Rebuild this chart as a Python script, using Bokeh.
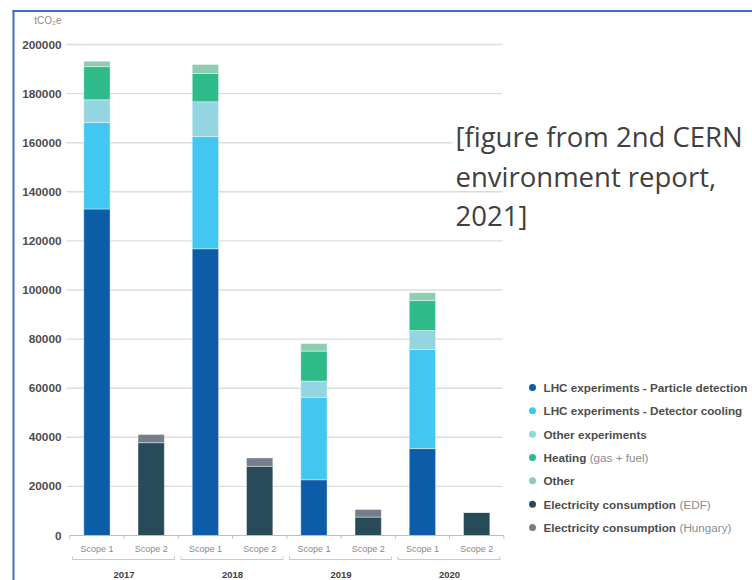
from bokeh.plotting import figure
from bokeh.models import ColumnDataSource, Range1d
from bokeh.core.properties import value
from bokeh.embed import file_html
from bokeh.resources import INLINE

# ---------------- data ----------------
years = ["2017", "2018", "2019", "2020"]
scopes = ["Scope 1", "Scope 2"]

# Scope 1 (tCO2e)
lhc_detection = [133000, 116800, 22700, 35400]
lhc_cooling = [35200, 45700, 33600, 40400]
other_experiments = [9300, 14200, 6600, 7700]
heating = [13500, 11500, 12200, 12200]
other = [2200, 3700, 3100, 3200]
# Scope 2 (tCO2e)
elec_edf = [37800, 28200, 7500, 9400]
elec_hungary = [3300, 3400, 3100, 0]

y_ticks = [0, 20000, 40000, 60000, 80000, 100000, 120000, 140000, 160000, 180000, 200000]
y_unit = "tCO\u2082e"

legend_main = ["LHC experiments - Particle detection", "LHC experiments - Detector cooling",
               "Other experiments", "Heating", "Other",
               "Electricity consumption", "Electricity consumption"]
legend_note = ["", "", "", "(gas + fuel)", "", "(EDF)", "(Hungary)"]
note_lines = ["[figure from 2nd CERN", "environment report,", "2021]"]

# ---------------- styles ----------------
colors1 = ["#0D5CA8", "#42C7F3", "#93D5E0", "#2FBA8A", "#8DCDB0"]
colors2 = ["#284B5A", "#747F8B"]
legend_colors = colors1 + colors2
note_offsets = [0, 0, 0, 46.2, 0, 136.0, 136.0]  # px width of bold part + space
FONT = value("Liberation Sans")

# ---------------- geometry (page px -> data) ----------------
W, H = 752, 580
SLOT = 54.25            # px per category slot
X0PX = 69.3             # px of first slot start
PPU = 491 / 200000      # px per tCO2e
BASE = 535              # px of zero line


def X(px):
    return (px - X0PX) / SLOT


def Y(py):
    return (BASE - py) / PPU


p = figure(width=W, height=H, x_range=Range1d(X(0), X(W)), y_range=Range1d(Y(H), Y(0)),
           output_backend="svg", toolbar_location=None,
           x_axis_location=None, y_axis_location=None,
           min_border_left=0, min_border_right=0, min_border_top=0, min_border_bottom=0)
p.outline_line_color = None
p.background_fill_color = "white"
p.border_fill_color = "white"
p.xgrid.visible = False
p.ygrid.visible = False

# horizontal grid lines
gt = y_ticks[1:]
p.segment(x0=[X(66)] * len(gt), y0=gt, x1=[X(502)] * len(gt), y1=gt,
          line_color="#dcdcdc", line_width=1.4)

# y tick labels + unit
p.text(x=[X(61)] * len(y_ticks), y=y_ticks, text=[str(t) for t in y_ticks],
       text_align="right", text_baseline="middle", text_font=FONT,
       text_font_size="11.8px", text_font_style="bold", text_color="#4d4d4d")
p.text(x=[X(61)], y=[Y(20)], text=[y_unit], text_align="right", text_baseline="middle",
       text_font=FONT, text_font_size="10px", text_color="#8c8c8c")

# ---------------- bars ----------------
n = len(years)
s1_x = [2 * i + 0.5 for i in range(n)]
s2_x = [2 * i + 1.5 for i in range(n)]
src1 = ColumnDataSource(dict(x=s1_x, det=lhc_detection, cool=lhc_cooling,
                             oexp=other_experiments, heat=heating, oth=other))
src2 = ColumnDataSource(dict(x=s2_x, edf=elec_edf, hun=elec_hungary))
p.vbar_stack(["det", "cool", "oexp", "heat", "oth"], x="x", width=0.485, source=src1,
             fill_color=colors1, line_color="white", line_width=0.8, line_alpha=0.5)
p.vbar_stack(["edf", "hun"], x="x", width=0.485, source=src2,
             fill_color=colors2, line_color="white", line_width=0.8, line_alpha=0.5)

# ---------------- category axis (drawn) ----------------
n_slots = 2 * n
p.segment(x0=[0], y0=[0], x1=[n_slots], y1=[0], line_color="#bdbdbd", line_width=1.2)
bx = list(range(n_slots + 1))
p.segment(x0=bx, y0=[0] * len(bx), x1=bx, y1=[Y(BASE + 3.5)] * len(bx),
          line_color="#c4c4c4", line_width=1)
cat_x = [c for pair in zip(s1_x, s2_x) for c in pair]
cat_t = scopes * n
p.text(x=cat_x, y=[Y(548)] * len(cat_x), text=cat_t, text_align="center",
       text_baseline="middle", text_font=FONT, text_font_size="9px", text_color="#8a8a8a")
bxs, bys = [], []
for i in range(n):
    a, b = 2 * i + 0.05, 2 * i + 1.93
    bxs.append([a, a, b, b])
    bys.append([Y(556), Y(559), Y(559), Y(556)])
p.multi_line(xs=bxs, ys=bys, line_color="#c8c8c8", line_width=1)
p.text(x=[2 * i + 1 for i in range(n)], y=[Y(574)] * n, text=years, text_align="center",
       text_baseline="middle", text_font=FONT, text_font_size="9.5px",
       text_font_style="bold", text_color="#404040")

# ---------------- legend (drawn) ----------------
ly = [Y(387 + i * 23.33) for i in range(len(legend_main))]
p.scatter(x=[X(532)] * len(ly), y=ly, size=7, fill_color=legend_colors, line_color=None)
p.text(x=[X(543)] * len(ly), y=ly, text=legend_main, text_baseline="middle",
       text_font=FONT, text_font_size="11.7px", text_font_style="bold", text_color="#4d4d4d")
p.text(x=[X(543)] * len(ly), y=ly, text=legend_note, x_offset=note_offsets,
       text_baseline="middle", text_font=FONT, text_font_size="11.7px", text_color="#8c8c8c")

# ---------------- overlay note ----------------
p.quad(left=[X(452)], right=[X(506)], top=[Y(122)], bottom=[Y(156)],
       fill_color="white", line_color=None)
p.text(x=[X(455)] * 3, y=[Y(136), Y(176), Y(215)], text=note_lines,
       text_baseline="alphabetic", text_font=value("Open Sans"), text_font_size="27.5px",
       text_color="#404040")

# ---------------- slide frame ----------------
p.segment(x0=[X(12), X(13)], y0=[Y(10.5), Y(10)], x1=[X(W), X(13)], y1=[Y(10.5), Y(H)],
          line_color="#3E70C1", line_width=2)

open("out.html", "w").write(file_html(p, INLINE))
